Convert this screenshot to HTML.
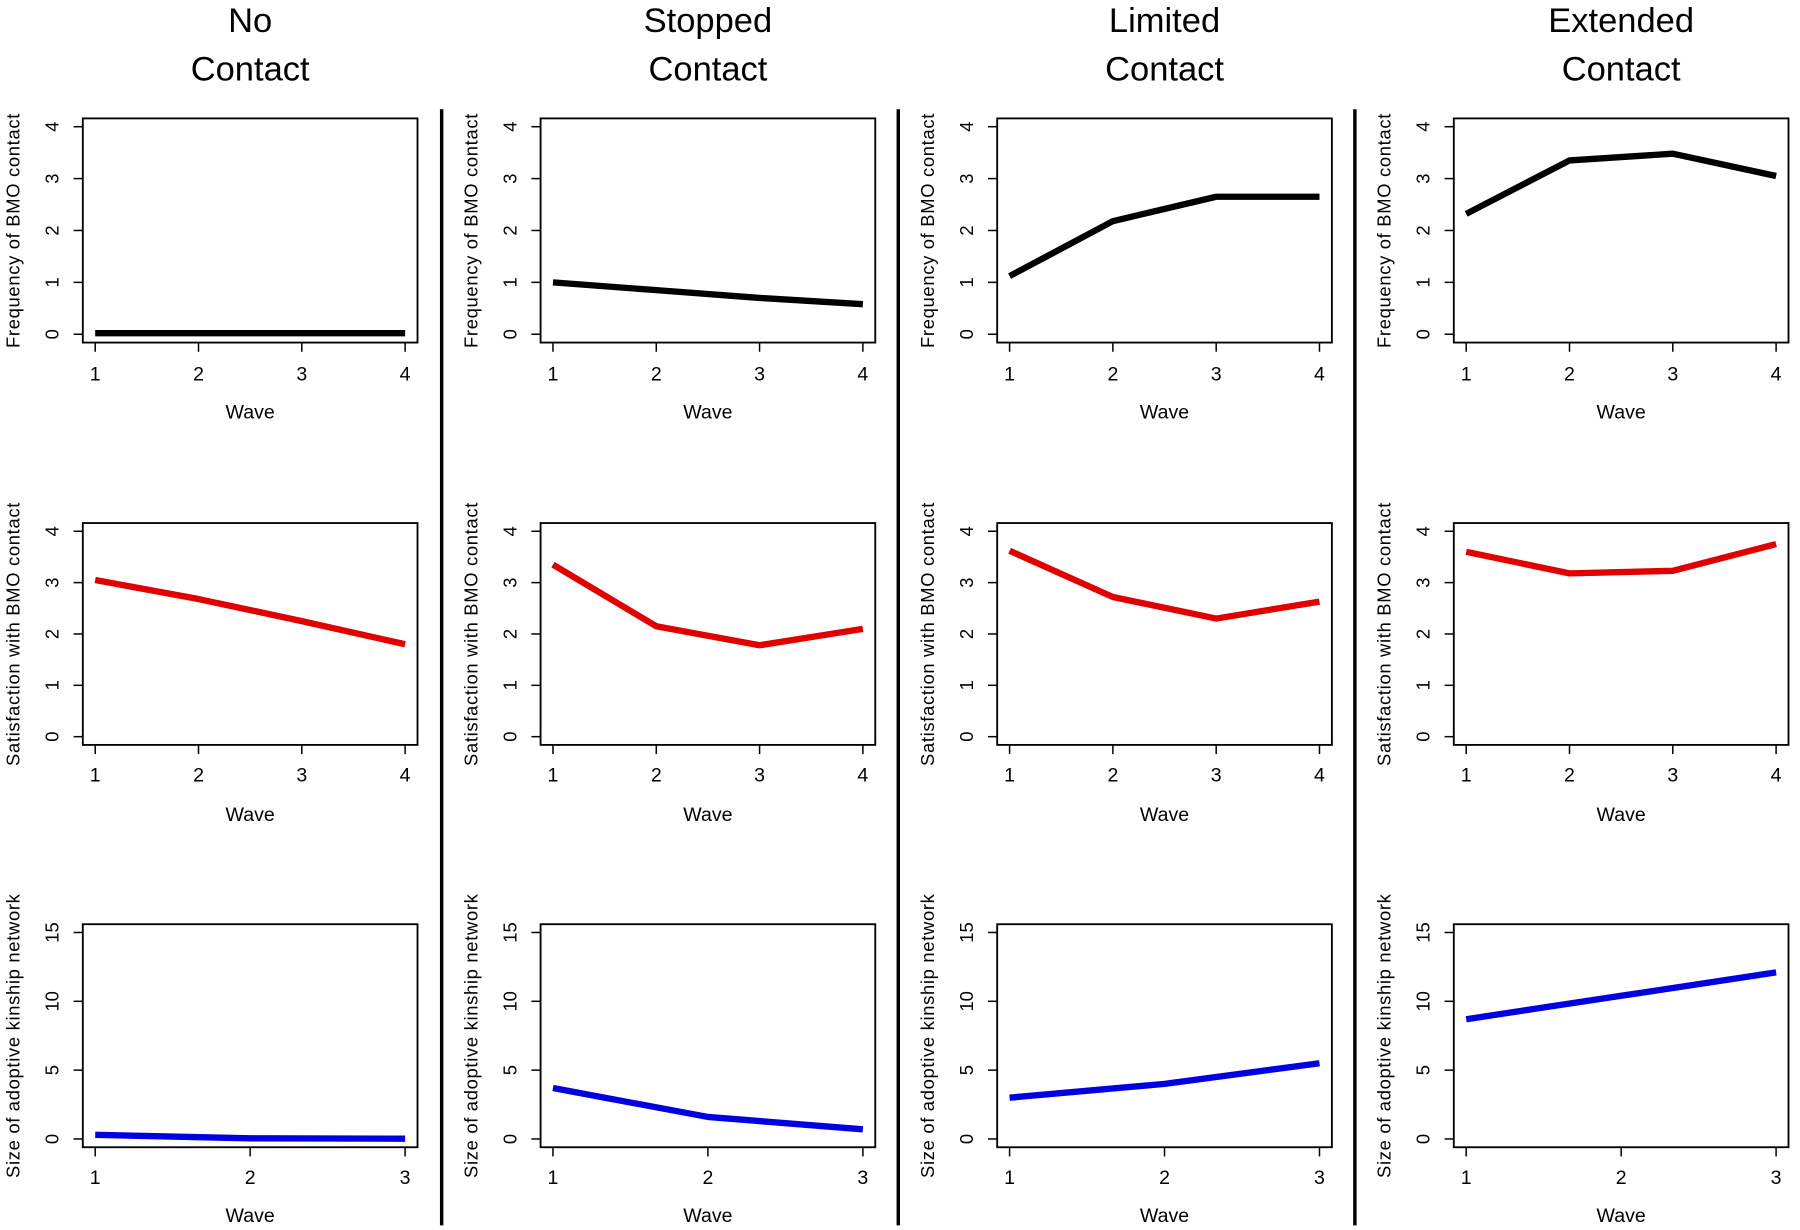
<!DOCTYPE html>
<html><head><meta charset="utf-8"><style>
html,body{margin:0;padding:0;background:#fff;}
svg{display:block;font-family:"Liberation Sans",sans-serif;}
</style></head><body>
<svg id="chart" width="1800" height="1230" viewBox="0 0 1565 1070" preserveAspectRatio="none" xmlns="http://www.w3.org/2000/svg"></svg>
<script>
const groups = ["No|Contact","Stopped|Contact","Limited|Contact","Extended|Contact"];
const freqNo = [0.02,0.02,0.02,0.02];
const freqStopped = [1.0,0.85,0.7,0.58];
const freqLimited = [1.12,2.18,2.65,2.65];
const freqExtended = [2.32,3.35,3.48,3.05];
const satNo = [3.05,2.68,2.25,1.8];
const satStopped = [3.35,2.15,1.78,2.1];
const satLimited = [3.62,2.72,2.3,2.63];
const satExtended = [3.6,3.18,3.23,3.75];
const sizeNo = [0.3,0.05,0.02];
const sizeStopped = [3.7,1.6,0.7];
const sizeLimited = [3.0,4.0,5.5];
const sizeExtended = [8.7,10.4,12.1];
const freqTicks = [0,1,2,3,4];
const satTicks = [0,1,2,3,4];
const sizeTicks = [0,5,10,15];
const waves4 = [1,2,3,4];
const waves3 = [1,2,3];

const NS="http://www.w3.org/2000/svg";
const svg=document.getElementById('chart');
function mk(tag,attrs,parent){const e=document.createElementNS(NS,tag);for(const k in attrs)e.setAttribute(k,attrs[k]);(parent||svg).appendChild(e);return e;}

const colX=[72,470,867,1264], W=291;
const rows=[
 {y0:103,y1:298,tickY:331,waveY:364,ticks:freqTicks,ymax:4,waves:waves4,title:"Frequency of BMO contact",color:"#000",data:[freqNo,freqStopped,freqLimited,freqExtended],key:"frequency"},
 {y0:455,y1:648,tickY:680,waveY:714,ticks:satTicks,ymax:4,waves:waves4,title:"Satisfaction with BMO contact",color:"#e00000",data:[satNo,satStopped,satLimited,satExtended],key:"satisfaction"},
 {y0:804,y1:998,tickY:1030,waveY:1063,ticks:sizeTicks,ymax:15,waves:waves3,title:"Size of adoptive kinship network",color:"#0000e0",data:[sizeNo,sizeStopped,sizeLimited,sizeExtended],key:"network-size"}
];

groups.forEach((g,ci)=>{
  const [a,b]=g.split('|');
  const cx=colX[ci]+W/2;
  const t=mk('text',{x:cx,'text-anchor':'middle','font-size':30});
  
  
  const s1=mk('tspan',{x:cx,y:28},t);s1.textContent=a;
  const s2=mk('tspan',{x:cx,y:70},t);s2.textContent=b;
  if(ci>0){
    const d=mk('line',{x1:colX[ci]-86,x2:colX[ci]-86,y1:95,y2:1066,stroke:'#000','stroke-width':3});
    
    
  }
  rows.forEach(r=>{
    const x0=colX[ci], x1=x0+W;
    const n=r.waves.length, xr=(n-1)*1.08, xmin=1-(n-1)*0.04;
    const X=v=>x0+(v-xmin)/xr*W;
    const yr=r.ymax*1.08, ymin=-r.ymax*0.04;
    const Y=v=>r.y1-(v-ymin)/yr*(r.y1-r.y0);
    const grp=mk('g',{});
    
    
    const box=mk('rect',{x:x0,y:r.y0,width:W,height:r.y1-r.y0,fill:'none',stroke:'#000','stroke-width':1.6},grp);
    
    
    r.waves.forEach(w=>{
      mk('line',{x1:X(w),x2:X(w),y1:r.y1,y2:r.y1+8,stroke:'#000','stroke-width':1.3},grp);
      const tl=mk('text',{x:X(w),y:r.tickY,'text-anchor':'middle','font-size':17},grp);
      
      
      tl.textContent=w;
    });
    r.ticks.forEach(v=>{
      mk('line',{x1:x0-8,x2:x0,y1:Y(v),y2:Y(v),stroke:'#000','stroke-width':1.3},grp);
      const tl=mk('text',{x:0,y:0,'text-anchor':'middle','font-size':16,transform:`translate(${x0-21},${Y(v)}) rotate(-90)`},grp);
      
      
      tl.textContent=v;
    });
    const wl=mk('text',{x:(x0+x1)/2,y:r.waveY,'text-anchor':'middle','font-size':17},grp);
    
    
    wl.textContent='Wave';
    const yt=mk('text',{x:0,y:0,'text-anchor':'middle','font-size':16,'letter-spacing':0.6,transform:`translate(${x0-55},${(r.y0+r.y1)/2}) rotate(-90)`},grp);
    
    
    yt.textContent=r.title;
    const pts=r.data[ci].map((v,i)=>X(r.waves[i])+','+Y(v)).join(' ');
    const pl=mk('polyline',{points:pts,fill:'none',stroke:r.color,'stroke-width':5.5,'stroke-linejoin':'round'},grp);
    
    
  });
});
</script>
</body></html>
